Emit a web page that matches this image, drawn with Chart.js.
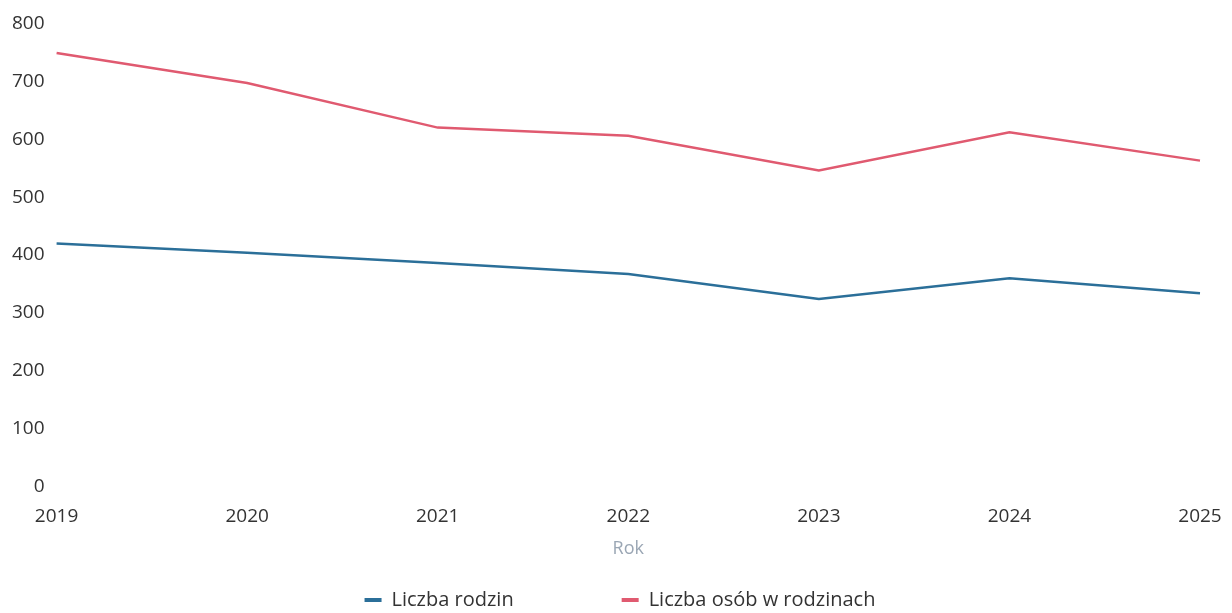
<!DOCTYPE html>
<html>
<head>
<meta charset="utf-8">
<script src="https://cdn.jsdelivr.net/npm/chart.js@4"></script>
<style>
   html, body { margin: 0; padding: 0; background: #ffffff; }
   #wrap { width: 1232px; height: 613px; }
</style>
</head>
<body>
<div id="wrap"><canvas id="chart"></canvas></div>
<script>
// Data
const years = ["2019", "2020", "2021", "2022", "2023", "2024", "2025"];
const families = [420, 404, 386, 367, 324, 360, 334];
const persons = [749, 697, 620, 606, 546, 612, 563];
const yTicks = [0, 100, 200, 300, 400, 500, 600, 700, 800];

Chart.defaults.font.family = "'Open Sans', sans-serif";
Chart.defaults.font.size = 19;
Chart.defaults.color = "#333333";

// Legend drawn below the axis title, with wide spacing between items
const bottomLegend = {
   id: "bottomLegend",
   afterDraw(chart) {
      const ctx = chart.ctx;
      ctx.save();
      ctx.font = "20px 'Open Sans', sans-serif";
      ctx.textBaseline = "middle";
      const items = chart.data.datasets.map(ds => ({
         label: ds.label,
         color: ds.borderColor,
         w: ctx.measureText(ds.label).width
      }));
      const sw = 17, gap = 10, itemGap = 108;
      const total = items.reduce((s, it) => s + sw + gap + it.w, 0) + itemGap * (items.length - 1);
      let x = chart.width / 2 + 4 - total / 2;
      const y = 600;
      items.forEach(it => {
         ctx.fillStyle = it.color;
         ctx.fillRect(x, y - 2, sw, 4);
         x += sw + gap;
         ctx.fillStyle = "#333333";
         ctx.fillText(it.label, x, y);
         x += it.w + itemGap;
      });
      ctx.restore();
   }
};

new Chart(document.getElementById("chart"), {
   type: "line",
   data: {
      labels: years,
      datasets: [
         {
            label: "Liczba rodzin",
            data: families,
            borderColor: "#2b6f99",
            backgroundColor: "#2b6f99",
            borderWidth: 2.5,
            pointRadius: 0,
            tension: 0,
            fill: false
         },
         {
            label: "Liczba osób w rodzinach",
            data: persons,
            borderColor: "#e05a70",
            backgroundColor: "#e05a70",
            borderWidth: 2.5,
            pointRadius: 0,
            tension: 0,
            fill: false
         }
      ]
   },
   options: {
      responsive: true,
      maintainAspectRatio: false,
      animation: false,
      layout: { padding: { left: 0, right: 0, top: 9, bottom: 41 } },
      scales: {
         x: {
            grid: { display: false, drawTicks: false },
            border: { display: false },
            ticks: { padding: 19, maxRotation: 0 },
            afterFit: scale => { scale.paddingRight = 32; },
            title: {
               display: true,
               text: "Rok",
               color: "#9aa6b4",
               font: { size: 18 },
               padding: { top: -9, bottom: 12 }
            }
         },
         y: {
            min: 0,
            max: 800,
            grid: { display: false, drawTicks: false },
            border: { display: false },
            afterBuildTicks: axis => {
               axis.ticks = yTicks.map(v => ({ value: v }));
            },
            ticks: { padding: 12 }
         }
      },
      plugins: {
         legend: { display: false },
         tooltip: { enabled: false }
      }
   },
   plugins: [bottomLegend]
});
</script>
</body>
</html>
